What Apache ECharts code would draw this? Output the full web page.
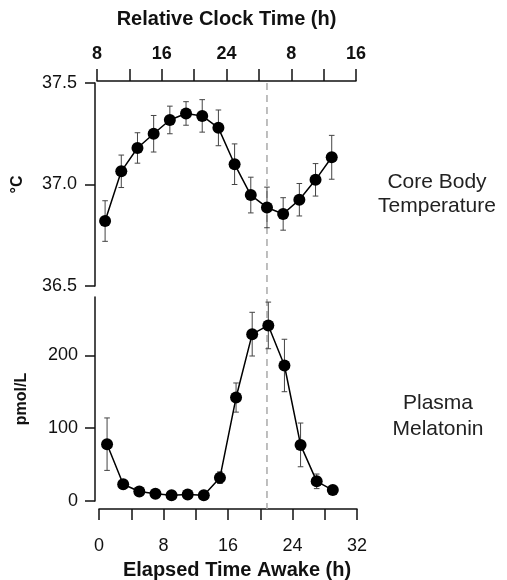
<!DOCTYPE html>
<html>
<head>
<meta charset="utf-8">
<script src="https://cdn.jsdelivr.net/npm/echarts@6/dist/echarts.min.js"></script>
<style>
html,body{margin:0;padding:0;background:#fff;}
#chart{width:507px;height:580px;}
</style>
</head>
<body>
<div id="chart"></div>
<script>
// ---- data ----
const elapsedHours = [1, 3, 5, 7, 9, 11, 13, 15, 17, 19, 21, 23, 25, 27, 29];
const tempValues = [36.82, 37.065, 37.18, 37.25, 37.318, 37.35, 37.338, 37.279, 37.10, 36.948, 36.887, 36.855, 36.925, 37.023, 37.134];
const tempErr = [0.10, 0.08, 0.075, 0.09, 0.068, 0.058, 0.08, 0.088, 0.10, 0.088, 0.10, 0.08, 0.08, 0.08, 0.108];
const melValues = [78, 23, 13, 10, 8, 9, 8, 32, 142, 229, 241, 186, 77, 27, 15];
const melErr = [36, 6, 2, 2, 1, 1, 1, 8, 20, 30, 32, 36, 30, 10, 3];
const clockLabels = ['8', '16', '24', '8', '16'];
const elapsedTicks = [0, 8, 16, 24, 32];
const tempTicks = [36.5, 37.0, 37.5];
const melTicks = [0, 100, 200];
const markerHour = 21;

const FONT = '"Liberation Sans", Arial, Helvetica, sans-serif';
const INK = '#111';

const chart = echarts.init(document.getElementById('chart'), null, {renderer: 'canvas'});

function pairs(vals) { return elapsedHours.map((h, i) => [h, vals[i]]); }
function errData(vals, errs) { return elapsedHours.map((h, i) => [h, vals[i] - errs[i], vals[i] + errs[i]]); }

function errRender(params, api) {
  const x = api.value(0);
  const lo = api.coord([x, api.value(1)]);
  const hi = api.coord([x, api.value(2)]);
  const cap = 2.8;
  const st = {stroke: '#444', lineWidth: 1};
  return {
    type: 'group',
    children: [
      {type: 'line', shape: {x1: lo[0], y1: lo[1], x2: hi[0], y2: hi[1]}, style: st},
      {type: 'line', shape: {x1: hi[0] - cap, y1: hi[1], x2: hi[0] + cap, y2: hi[1]}, style: st},
      {type: 'line', shape: {x1: lo[0] - cap, y1: lo[1], x2: lo[0] + cap, y2: lo[1]}, style: st}
    ]
  };
}

const axisLine = {show: true, onZero: false, lineStyle: {color: INK, width: 1.5}};
const tickStyle = {color: INK, width: 1.5};

const option = {
  animation: false,
  backgroundColor: '#fff',
  grid: [
    {left: 97, top: 83, width: 259, height: 203, containLabel: false, outerBoundsMode: 'none'},
    {left: 99, top: 297, width: 258, height: 204, containLabel: false, outerBoundsMode: 'none'}
  ],
  xAxis: [
    {
      gridIndex: 0, type: 'value', position: 'top', min: 0, max: 32, interval: 8, offset: 2,
      axisLine: axisLine,
      axisTick: {show: true, length: 12, lineStyle: tickStyle},
      minorTick: {show: true, splitNumber: 2, length: 12, lineStyle: tickStyle},
      splitLine: {show: false}, minorSplitLine: {show: false},
      axisLabel: {
        fontFamily: FONT, fontSize: 18, fontWeight: 'bold', color: INK, margin: 18,
        formatter: v => clockLabels[elapsedTicks.indexOf(v)]
      },
      name: 'Relative Clock Time (h)', nameLocation: 'middle', nameGap: 52,
      nameTextStyle: {fontFamily: FONT, fontSize: 20, fontWeight: 'bold', color: INK}
    },
    {
      gridIndex: 1, type: 'value', position: 'bottom', min: 0, max: 32, interval: 8, offset: 8,
      axisLine: axisLine,
      axisTick: {show: true, length: 11, lineStyle: tickStyle},
      minorTick: {show: true, splitNumber: 2, length: 11, lineStyle: tickStyle},
      splitLine: {show: false}, minorSplitLine: {show: false},
      axisLabel: {fontFamily: FONT, fontSize: 18, color: INK, margin: 28,
        formatter: v => String(elapsedTicks[elapsedTicks.indexOf(v)])},
      name: 'Elapsed Time Awake (h)', nameLocation: 'middle', nameGap: 51,
      nameTextStyle: {fontFamily: FONT, fontSize: 20, fontWeight: 'bold', color: INK, padding: [0, 0, 0, 18]}
    }
  ],
  yAxis: [
    {
      gridIndex: 0, type: 'value', min: 36.5, max: 37.5, interval: 0.5, offset: 2,
      axisLine: axisLine,
      axisTick: {show: true, length: 10, lineStyle: tickStyle, customValues: tempTicks},
      splitLine: {show: false},
      axisLabel: {fontFamily: FONT, fontSize: 18, color: INK, margin: 18,
        customValues: tempTicks, formatter: v => v.toFixed(1)},
      name: '°C', nameLocation: 'middle', nameGap: 69,
      nameTextStyle: {fontFamily: FONT, fontSize: 16, fontWeight: 'bold', color: INK}
    },
    {
      gridIndex: 1, type: 'value', min: 0, max: 280, interval: 100, offset: 4,
      axisLine: axisLine,
      axisTick: {show: true, length: 10, lineStyle: tickStyle, customValues: melTicks},
      splitLine: {show: false},
      axisLabel: {fontFamily: FONT, fontSize: 18, color: INK, margin: 17,
        customValues: melTicks, formatter: v => String(v)},
      name: 'pmol/L', nameLocation: 'middle', nameGap: 65,
      nameTextStyle: {fontFamily: FONT, fontSize: 16, fontWeight: 'bold', color: INK}
    }
  ],
  series: [
    {
      type: 'custom', xAxisIndex: 0, yAxisIndex: 0, renderItem: errRender,
      data: errData(tempValues, tempErr), z: 2, silent: true
    },
    {
      type: 'line', xAxisIndex: 0, yAxisIndex: 0, data: pairs(tempValues),
      symbol: 'circle', symbolSize: 12, itemStyle: {color: '#000'},
      lineStyle: {color: '#000', width: 1.5}, z: 3
    },
    {
      type: 'custom', xAxisIndex: 1, yAxisIndex: 1, renderItem: errRender,
      data: errData(melValues, melErr), z: 2, silent: true
    },
    {
      type: 'line', xAxisIndex: 1, yAxisIndex: 1, data: pairs(melValues),
      symbol: 'circle', symbolSize: 12, itemStyle: {color: '#000'},
      lineStyle: {color: '#000', width: 1.5}, z: 3
    }
  ]
};

chart.setOption(option);

// dashed reference line spanning both panels, positioned through the axes' scales
const xPix = chart.convertToPixel({xAxisIndex: 0}, markerHour);
const yTop = chart.convertToPixel({yAxisIndex: 0}, tempTicks[tempTicks.length - 1]);
const yBot = chart.convertToPixel({yAxisIndex: 1}, 0) + option.xAxis[1].offset;

chart.setOption({
  graphic: [
    {
      type: 'line', z: 1, silent: true,
      shape: {x1: xPix, y1: yTop, x2: xPix, y2: yBot},
      style: {stroke: '#aaa', lineWidth: 1.5, lineDash: [7, 5]}
    },
    {
      type: 'text', x: 437, y: 194, silent: true,
      style: {text: 'Core Body\nTemperature', align: 'center', verticalAlign: 'middle',
        font: '21px ' + FONT, fill: '#222', lineHeight: 24}
    },
    {
      type: 'text', x: 438, y: 416, silent: true,
      style: {text: 'Plasma\nMelatonin', align: 'center', verticalAlign: 'middle',
        font: '21px ' + FONT, fill: '#222', lineHeight: 26}
    }
  ]
});
</script>
</body>
</html>
